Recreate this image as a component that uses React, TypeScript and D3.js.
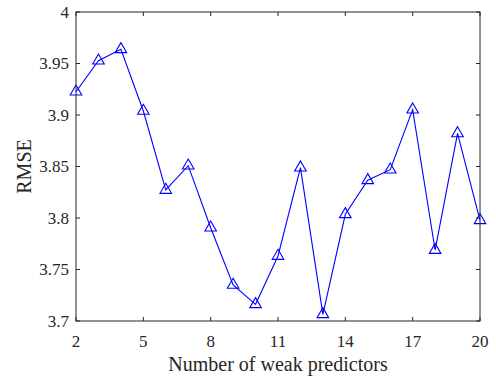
import React from "react";
import * as d3 from "d3";

const predictors = [2,3,4,5,6,7,8,9,10,11,12,13,14,15,16,17,18,19,20];
const rmse = [3.9226,3.9527,3.9638,3.9039,3.8272,3.8508,3.7906,3.735,3.7162,3.7631,3.8489,3.7065,3.8036,3.8366,3.8469,3.9052,3.7689,3.8822,3.7978];
const xTicks = [2,5,8,11,14,17,20];
const yTicks = [3.7,3.75,3.8,3.85,3.9,3.95,4];

const W = 496, H = 377;
const L = 76, R = 480, T = 12, B = 321;
const axisColor = "#262626";
const font = "Liberation Serif";

export default function App() {
  const x = d3.scaleLinear().domain([2, 20]).range([L, R]);
  const y = d3.scaleLinear().domain([3.7, 4]).range([B, T]);
  const line = d3.line<number>().x((_, i) => x(predictors[i])).y(d => y(d));
  const tri = d3.symbol().type(d3.symbolTriangle).size(58)();
  const ts = { fontFamily: font, fill: axisColor } as React.CSSProperties;
  return (
    <svg width={W} height={H} style={{ position: "absolute", left: 0, top: 0, background: "#fff" }}>
      <rect x={0} y={0} width={W} height={H} fill="#fff" />
      <path d={line(rmse) || ""} fill="none" stroke="#0000ff" strokeWidth={1.1} />
      {rmse.map((v, i) => (
        <path key={i} d={tri} transform={`translate(${x(predictors[i])},${y(v)})`} fill="none" stroke="#0000ff" strokeWidth={1.1} />
      ))}
      <rect x={L} y={T} width={R - L} height={B - T} fill="none" stroke={axisColor} strokeWidth={1} />
      {xTicks.map(t => (
        <g key={t}>
          <line x1={x(t)} x2={x(t)} y1={B} y2={B - 4} stroke={axisColor} />
          <line x1={x(t)} x2={x(t)} y1={T} y2={T + 4} stroke={axisColor} />
          <text x={x(t)} y={341} textAnchor="middle" dominantBaseline="central" style={{ ...ts, fontSize: 17 }}>{t}</text>
        </g>
      ))}
      {yTicks.map(t => (
        <g key={t}>
          <line x1={L} x2={L + 4} y1={y(t)} y2={y(t)} stroke={axisColor} />
          <line x1={R} x2={R - 4} y1={y(t)} y2={y(t)} stroke={axisColor} />
          <text x={69} y={y(t)} textAnchor="end" dominantBaseline="central" style={{ ...ts, fontSize: 17 }}>{String(+t.toFixed(2))}</text>
        </g>
      ))}
      <text x={(L + R) / 2} y={364} textAnchor="middle" dominantBaseline="central" style={{ ...ts, fontSize: 20 }}>Number of weak predictors</text>
      <text transform={`translate(24,${(T + B) / 2}) rotate(-90)`} textAnchor="middle" dominantBaseline="central" style={{ ...ts, fontSize: 20 }}>RMSE</text>
    </svg>
  );
}
